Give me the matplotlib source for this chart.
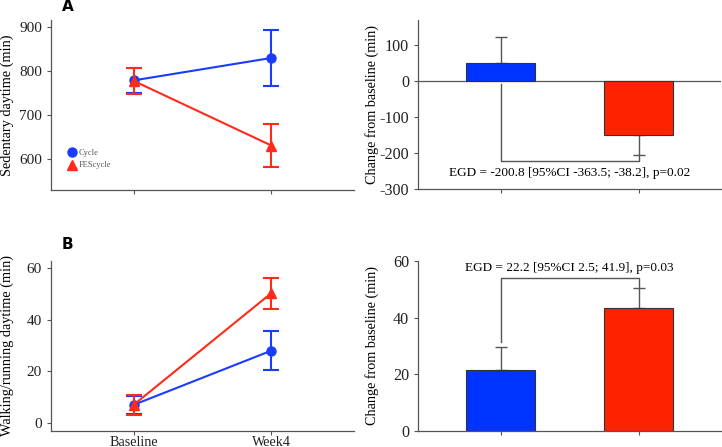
import matplotlib.pyplot as plt
from matplotlib.lines import Line2D
import numpy as np

# === Data ===
timepoints = ['Baseline', 'Week4']
groups = ['Cycle', 'FEScycle']

# A: sedentary daytime (min), mean and SE
sed_cycle = [779, 830]
sed_cycle_err = [28, 63]
sed_fes = [778, 631]
sed_fes_err = [30, 48]

# B: walking/running daytime (min)
walk_cycle = [7.0, 28.0]
walk_cycle_err = [3.5, 7.6]
walk_fes = [7.0, 50.3]
walk_fes_err = [3.8, 6.0]

# change from baseline (bars)
chg_sed = [52, -149]
chg_sed_err = [72, 58]
chg_walk = [21.5, 43.5]
chg_walk_err = [8.2, 7.0]

egd_sed = 'EGD = -200.8 [95%CI -363.5; -38.2], p=0.02'
egd_walk = 'EGD = 22.2 [95%CI 2.5; 41.9], p=0.03'

BLUE_LINE = '#1a3cff'
RED_LINE = '#ff2a1a'
BLUE_BAR = '#0033ff'
RED_BAR = '#ff2200'
GREY = '#555555'

plt.rcParams['font.family'] = 'Liberation Serif'
plt.rcParams['axes.unicode_minus'] = False

fig = plt.figure(figsize=(7.22, 4.47), dpi=100)
axA = fig.add_axes([0.0706, 0.575, 0.4197, 0.380])
axAr = fig.add_axes([0.579, 0.5765, 0.420, 0.379])
axB = fig.add_axes([0.0706, 0.0365, 0.4197, 0.380])
axBr = fig.add_axes([0.579, 0.0365, 0.420, 0.380])

x = np.array([1, 2])


def style(ax, size=11):
    for s in ['top', 'right']:
        ax.spines[s].set_visible(False)
    for s in ['left', 'bottom']:
        ax.spines[s].set_color(GREY)
        ax.spines[s].set_linewidth(0.9)
    ax.tick_params(colors=GREY, labelcolor='#222222', labelsize=size, length=3, width=0.8)
    ax.tick_params(axis='x', pad=0.5)
    ax.set_xlim(0.40, 2.60)
    ax.set_xticks(x)


def line_panel(ax, c, ce, f, fe):
    ax.errorbar(x, c, yerr=ce, color=BLUE_LINE, marker='o', markersize=6.5, lw=1.5,
                capsize=6, capthick=1.5, elinewidth=1.5, zorder=2)
    ax.errorbar(x, f, yerr=fe, color=RED_LINE, marker='^', markersize=7, lw=1.5,
                capsize=6, capthick=1.5, elinewidth=1.5, zorder=3)
    style(ax)


def bar_panel(ax, vals, errs):
    lo = [0 if v > 0 else e for v, e in zip(vals, errs)]
    hi = [e if v > 0 else 0 for v, e in zip(vals, errs)]
    ax.bar(x, vals, width=0.5, color=[BLUE_BAR, RED_BAR], edgecolor='#333333', linewidth=0.8, zorder=2)
    ax.errorbar(x, vals, yerr=[lo, hi], fmt='none', ecolor=GREY, elinewidth=1.0,
                capsize=4.5, capthick=1.0, zorder=1)
    style(ax, 11.6)
    ax.set_xticklabels([])
    ax.set_ylabel('Change from baseline (min)', fontsize=10.2)
    ax.yaxis.set_label_coords(-0.128, 0.5)


# --- A left ---
line_panel(axA, sed_cycle, sed_cycle_err, sed_fes, sed_fes_err)
axA.set_ylim(530, 916)
axA.set_yticks([600, 700, 800, 900])
axA.set_xticklabels([])
axA.set_ylabel('Sedentary daytime (min)', fontsize=10.3)
axA.yaxis.set_label_coords(-0.122, 0.5)
handles = [Line2D([], [], color=BLUE_LINE, marker='o', markersize=6.5, linestyle='none'),
           Line2D([], [], color=RED_LINE, marker='^', markersize=7, linestyle='none')]
axA.legend(handles, groups, loc='center left', bbox_to_anchor=(0.04, 0.18), frameon=False,
           fontsize=6, labelcolor='#555555', handletextpad=0.2, handlelength=1.2,
           labelspacing=0.5, borderpad=0)
axA.text(0.48, 929, 'A', fontsize=11, fontweight='bold', family='DejaVu Sans',
         ha='left', va='bottom')

# --- B left ---
line_panel(axB, walk_cycle, walk_cycle_err, walk_fes, walk_fes_err)
axB.set_ylim(-3, 62.8)
axB.set_yticks([0, 20, 40, 60])
axB.set_xticklabels(timepoints, fontsize=10.2)
axB.set_ylabel('Walking/running daytime (min)', fontsize=10.3)
axB.yaxis.set_label_coords(-0.122, 0.5)
axB.text(0.48, 66.3, 'B', fontsize=11, fontweight='bold', family='DejaVu Sans',
         ha='left', va='bottom')

# --- A right ---
bar_panel(axAr, chg_sed, chg_sed_err)
axAr.set_ylim(-302, 171)
axAr.set_yticks([-300, -200, -100, 0, 100])
axAr.axhline(0, color=GREY, lw=0.9, zorder=1)
axAr.plot([1, 1, 2, 2], [-7, -223, -223, -207], color=GREY, lw=1.0)
axAr.text(1.5, -257, egd_sed, ha='center', va='center', fontsize=9.5)

# --- B right ---
bar_panel(axBr, chg_walk, chg_walk_err)
axBr.set_ylim(0, 60.2)
axBr.set_yticks([0, 20, 40, 60])
axBr.plot([1, 1, 2, 2], [31.4, 54.0, 54.0, 50.8], color=GREY, lw=1.0)
axBr.text(1.5, 57.8, egd_walk, ha='center', va='center', fontsize=9.5)

fig.savefig('out.png', dpi=100)
